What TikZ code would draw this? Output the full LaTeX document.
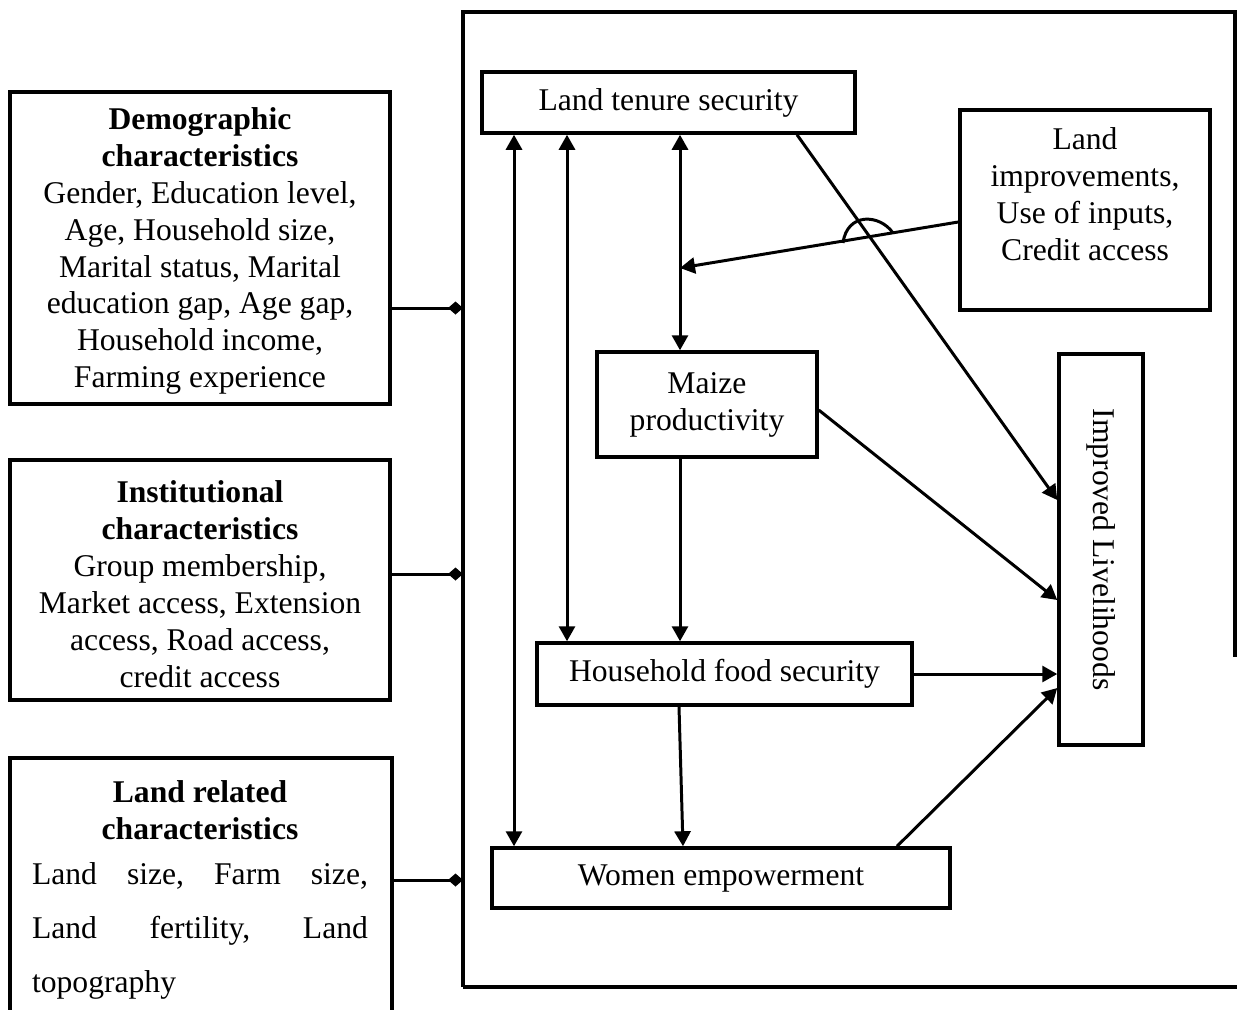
\documentclass[tikz,border=0pt]{standalone}
\usepackage{fontspec}
\setmainfont{Liberation Serif}
\usetikzlibrary{arrows.meta, positioning}

\newcommand{\figfont}{\fontsize{18}{21}\selectfont}
\newcommand{\landfont}{\fontsize{18}{30.7}\selectfont}

\begin{document}
\begin{tikzpicture}[
  x=0.02cm, y=-0.02cm,
  box/.style   = {draw, line width=2pt, inner sep=0pt, align=center,
                  font=\figfont},
  txt/.style   = {inner sep=0pt, align=center, font=\figfont},
  arr/.style   = {-{Triangle[length=3mm,width=3.2mm]}, line width=1.7pt},
  biarr/.style = {{Triangle[length=3mm,width=3.2mm]}-{Triangle[length=3mm,width=3.2mm]},
                  line width=1.7pt},
  link/.style  = {-{Diamond[length=3mm,width=2.6mm]}, line width=1.7pt}
]
\useasboundingbox (0,0) rectangle (1237,1009);

% Outer frame
\draw[line width=2pt] (463,987) -- (463,12) -- (1235,12) -- (1235,657);
\draw[line width=2pt] (463,987) -- (1237,987);
\coordinate (fD) at (463,308);
\coordinate (fI) at (463,574);
\coordinate (fL) at (463,880);

% Left-hand boxes
\node[box, minimum width=7.6cm, minimum height=6.24cm] (demo) at (200,248) {};
\begin{scope}
  \clip (12,94) rectangle (388,393);
  \node[txt] (demoT) at (200,251) {\textbf{Demographic}\\\textbf{characteristics}\\
    Gender, Education level,\\Age, Household size,\\Marital status, Marital\\
    education gap, Age gap,\\Household income,\\Farming experience};
\end{scope}

\node[box, minimum width=7.6cm, minimum height=4.8cm] (inst) at (200,580) {};
\node[txt] (instT) at (200,584) {\textbf{Institutional}\\\textbf{characteristics}\\
  Group membership,\\Market access, Extension\\access, Road access,\\credit access};

\node[box, minimum width=7.64cm, minimum height=5.3cm] (land) at (201,890.5) {};
\node[txt, font=\figfont\bfseries] (landT) at (200,810) {Land related\\characteristics};
\node[txt, text width=6.72cm, align=left, font=\landfont] (landB) at (200,931)
  {\makebox[6.72cm]{Land\hfill size,\hfill Farm\hfill size,}\\
   \makebox[6.72cm]{Land\hfill fertility,\hfill Land}\\topography};

% Inner boxes
\node[box, minimum width=7.46cm, minimum height=1.22cm] (lts) at (668.5,102.5) {Land tenure security};
\node[box, minimum width=5cm, minimum height=4cm] (li) at (1085,210) {};
\node[txt] (liT) at (1085,194) {Land\\improvements,\\Use of inputs,\\Credit access};
\node[box, minimum width=4.4cm, minimum height=2.1cm] (mp) at (707,404.5) {Maize\\productivity};
\node[box, minimum width=7.5cm, minimum height=1.24cm] (hfs) at (724.5,674) {Household food security};
\node[box, minimum width=9.16cm, minimum height=1.2cm] (we) at (721,878) {Women empowerment};
\node[box, minimum width=1.68cm, minimum height=7.82cm] (il) at (1101,549.5)
  {\rotatebox{-90}{Improved Livelihoods}};

% Links to the frame
\draw[link] (demo.east |- fD) -- (fD);
\draw[link] (inst.east |- fI) -- (fI);
\draw[link] (land.east |- fL) -- (fL);

% Arrows
\draw[biarr] (lts.south -| 514,0) -- (we.north -| 514,0);
\draw[biarr] (lts.south -| 567,0) -- (hfs.north -| 567,0);
\draw[biarr] (lts.south -| 680,0) -- (mp.north -| 680,0);
\draw[arr] (mp.south -| 680,0) -- (hfs.north -| 680,0);
\draw[arr] (hfs.south -| 679,0) -- (we.north -| 683,0);
\coordinate (mod) at (680,268);
\draw[arr] (li.west |- 0,222) -- (mod);
\draw[line width=1.7pt] (843,243) .. controls (847,212) and (880,214) .. (893,233);
\draw[arr] (lts.south -| 797,0) -- (il.west |- 0,500);
\draw[arr] (mp.east |- 0,410) -- (il.west |- 0,600);
\draw[arr] (hfs.east) -- (il.west |- hfs.east);
\draw[arr] (we.north -| 897,0) -- (il.west |- 0,688);
\end{tikzpicture}
\end{document}
